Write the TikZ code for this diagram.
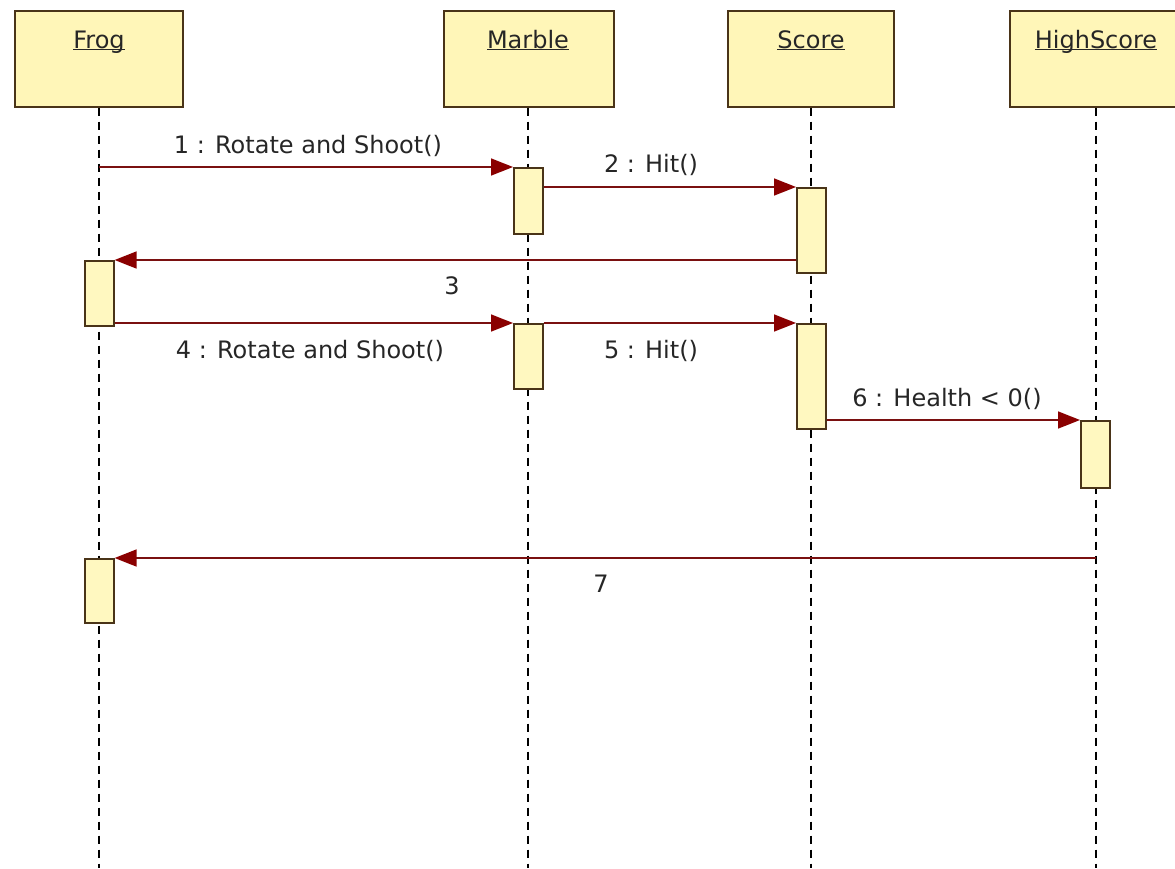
\documentclass[tikz,border=0pt]{standalone}
\usepackage{fontspec}
\setmainfont{DejaVu Sans}
\usetikzlibrary{arrows.meta}
\definecolor{boxfill}{HTML}{FFF6B8}
\definecolor{actfill}{HTML}{FFF8C0}
\definecolor{boxline}{HTML}{4A3418}
\definecolor{msgline}{HTML}{7A1010}
\definecolor{tipred}{HTML}{8A0000}
\begin{document}
\begin{tikzpicture}[x=1pt,y=-1pt,
  font=\fontsize{24}{28}\selectfont,
  header/.style={draw=boxline,line width=1.6pt,fill=boxfill,minimum height=96pt,inner sep=0pt,text depth=0pt,anchor=north west},
  act/.style={draw=boxline,line width=1.6pt,fill=actfill,minimum width=29pt,inner sep=0pt,anchor=north west},
  lifeline/.style={draw=black,line width=1.8pt,dash pattern=on 8pt off 6pt},
  msg/.style={draw=msgline,line width=1.6pt,-{Triangle[length=22pt,width=17pt,fill=tipred,color=tipred]}},
  lbl/.style={text=black!85,inner sep=0pt},
  hlbl/.style={text=black!85,inner sep=0pt,anchor=base}]
\useasboundingbox (0,0) rectangle (1175,868);
\fill[white] (0,0) rectangle (1175,868);
% headers
\node[header,minimum width=168pt] (frog) at (14,10) {};
\node[header,minimum width=170pt] (marble) at (443,10) {};
\node[header,minimum width=166pt] (score) at (727,10) {};
\node[header,minimum width=166pt] (high) at (1009,10) {};
\node[hlbl] at (99,48) {\underline{\smash{Frog}}};
\node[hlbl] at (528,48) {\underline{\smash{Marble}}};
\node[hlbl] at (811,48) {\underline{\smash{Score}}};
\node[hlbl] at (1096,48) {\underline{\smash{HighScore}}};
% lifelines
\coordinate (frogE) at (99,868);
\coordinate (marbleE) at (528,868);
\coordinate (scoreE) at (811,868);
\coordinate (highE) at (1096,868);
\draw[lifeline] (frogE |- frog.south) -- (frogE);
\draw[lifeline] (marbleE |- marble.south) -- (marbleE);
\draw[lifeline] (scoreE |- score.south) -- (scoreE);
\draw[lifeline] (highE |- high.south) -- (highE);
% activations
\node[act,minimum height=66pt] (ma1) at (513,167) {};
\node[act,minimum height=85pt] (sa1) at (796,187) {};
\node[act,minimum height=65pt] (fa1) at (84,260) {};
\node[act,minimum height=65pt] (ma2) at (513,323) {};
\node[act,minimum height=105pt] (sa2) at (796,323) {};
\node[act,minimum height=67pt] (ha1) at (1080,420) {};
\node[act,minimum height=64pt] (fa2) at (84,558) {};
% message endpoints
\coordinate (m1s) at (99,167);
\coordinate (m7s) at (1096,558);
% messages
\draw[msg] (m1s) -- (ma1.north west);
\draw[msg] (ma1.east |- sa1.north) -- (sa1.north west);
\draw[msg] (sa1.west |- fa1.north) -- (fa1.north east);
\draw[msg] (fa1.east |- ma2.north) -- (ma2.north west);
\draw[msg] (ma2.north east) -- (sa2.north west);
\draw[msg] (sa2.east |- ha1.north) -- (ha1.north west);
\draw[msg] (m7s) -- (fa2.north east);
% labels
\node[lbl] at (308,146) {1 : Rotate and Shoot()};
\node[lbl] at (651,165) {2 : Hit()};
\node[lbl] at (452,286) {3};
\node[lbl] at (310,351) {4 : Rotate and Shoot()};
\node[lbl] at (651,351) {5 : Hit()};
\node[lbl] at (947,399) {6 : Health < 0()};
\node[lbl] at (601,584) {7};
\end{tikzpicture}
\end{document}
